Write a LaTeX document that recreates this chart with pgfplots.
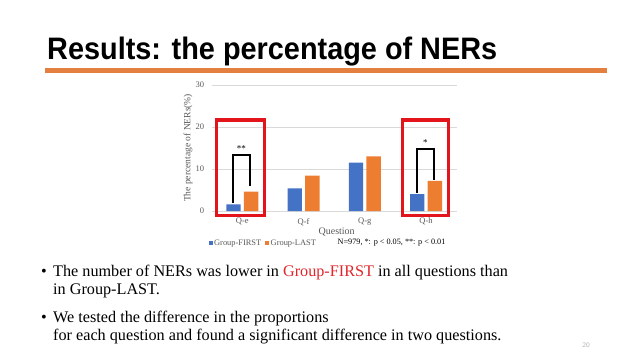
\documentclass[border=0pt]{standalone}
\usepackage{fontspec}
\setmainfont{Liberation Serif}
\newfontfamily\titlefont{Liberation Sans}
\usepackage{pgfplots}
\pgfplotsset{compat=1.18}
\definecolor{obar}{HTML}{ED7D31}
\definecolor{bbar}{HTML}{4472C4}
\definecolor{tline}{HTML}{E3803F}
\definecolor{boxred}{HTML}{E3141C}
\definecolor{txtred}{HTML}{E0262B}
\definecolor{axgray}{HTML}{595959}
\definecolor{gridgray}{HTML}{D9D9D9}
\begin{document}
\begin{tikzpicture}[x=1pt,y=1pt]
\fill[white] (0,0) rectangle (640,360);
% title
\node[anchor=base west, inner sep=0pt] at (47,301) {\resizebox{450pt}{22.5pt}{\titlefont\bfseries Results: the percentage of NERs}};
\fill[tline] (45,287.5) rectangle (607,292);
% chart
\begin{axis}[
  at={(211.7pt,149pt)}, anchor=south west,
  scale only axis, width=245pt, height=126pt,
  xmin=-0.5, xmax=3.5, ymin=0, ymax=30,
  ybar, bar width=14.3pt,
  axis x line*=bottom, axis y line*=left,
  x axis line style={draw=gridgray, line width=0.8pt},
  y axis line style={draw=none},
  major tick length=0pt,
  ymajorgrids, grid style={gridgray, line width=0.6pt},
  xtick={0,1,2,3}, xticklabels={Q-e,Q-f,Q-g,Q-h},
  ytick={0,10,20,30},
  tick label style={font=\fontsize{8.5}{10}\selectfont, text=axgray},
  yticklabel style={xshift=-4pt},
  xticklabel style={yshift=-3.5pt},
  /pgf/number format/assume math mode=true,
  ylabel={The percentage of NERs(\%)},
  ylabel style={at={(axis description cs:-0.0967,0.5)}, anchor=center, font=\fontsize{9.5}{11}\selectfont, text=axgray},
  xlabel={Question},
  xlabel style={at={(axis description cs:0.51,-0.167)}, anchor=center, font=\fontsize{10}{12}\selectfont, text=axgray},
  legend style={draw=none, fill=none, at={(axis description cs:-0.012,-0.254)}, anchor=west,
    legend columns=2, font=\fontsize{8.4}{9}\selectfont, text=axgray, inner sep=0pt,
    nodes={inner sep=1.2pt},
    /tikz/every even column/.append style={column sep=3pt}},
  legend image code/.code={\fill[#1] (0pt,-2pt) rectangle (4pt,2pt);},
  clip=false,
]
\addplot[fill=bbar, draw=none, bar shift=-8.8pt] coordinates {(0,1.6) (1,5.4) (2,11.5) (3,4.0)};
\addplot[fill=obar, draw=none, bar shift=8.8pt] coordinates {(0,4.6) (1,8.4) (2,13.0) (3,7.2)};
\legend{Group-FIRST, Group-LAST}
% significance brackets
\draw[black, line width=1.4pt] (axis cs:-0.155,1.9) -- (axis cs:-0.155,13.3) -- (axis cs:0.125,13.3) -- (axis cs:0.125,6.0);
\node[font=\fontsize{9}{10}\selectfont, inner sep=0pt] at (axis cs:-0.015,14.9) {**};
\draw[black, line width=1.4pt] (axis cs:2.851,4.2) -- (axis cs:2.851,14.8) -- (axis cs:3.129,14.8) -- (axis cs:3.129,7.4);
\node[font=\fontsize{9}{10}\selectfont, inner sep=0pt] at (axis cs:2.99,16.4) {*};
% red boxes
\draw[boxred, line width=3.3pt] (axis cs:-0.422,-1.12) rectangle (axis cs:0.362,21.67);
\draw[boxred, line width=3.3pt] (axis cs:2.615,-1.12) rectangle (axis cs:3.366,21.67);
\end{axis}
\node[anchor=west, inner sep=0pt, font=\fontsize{8.2}{9}\selectfont, text=black] at (337.5,117) {N=979, *: p {<} 0.05, **: p {<} 0.01};
% bullets
\begin{scope}[every node/.style={anchor=base west, inner sep=0pt, font=\fontsize{16.2}{18}\selectfont}]
\node at (41,84) {\textbullet};
\node at (53,84) {The number of NERs was lower in \textcolor{txtred}{Group-FIRST} in all questions than};
\node at (53,66) {in Group-LAST.};
\node at (41,38) {\textbullet};
\node at (53,38) {We tested the difference in the proportions};
\node at (53,20) {for each question and found a significant difference in two questions.};
\end{scope}
\node[font=\fontsize{7}{8}\selectfont\sffamily, text=gray!60] at (586,15) {20};
\end{tikzpicture}
\end{document}
